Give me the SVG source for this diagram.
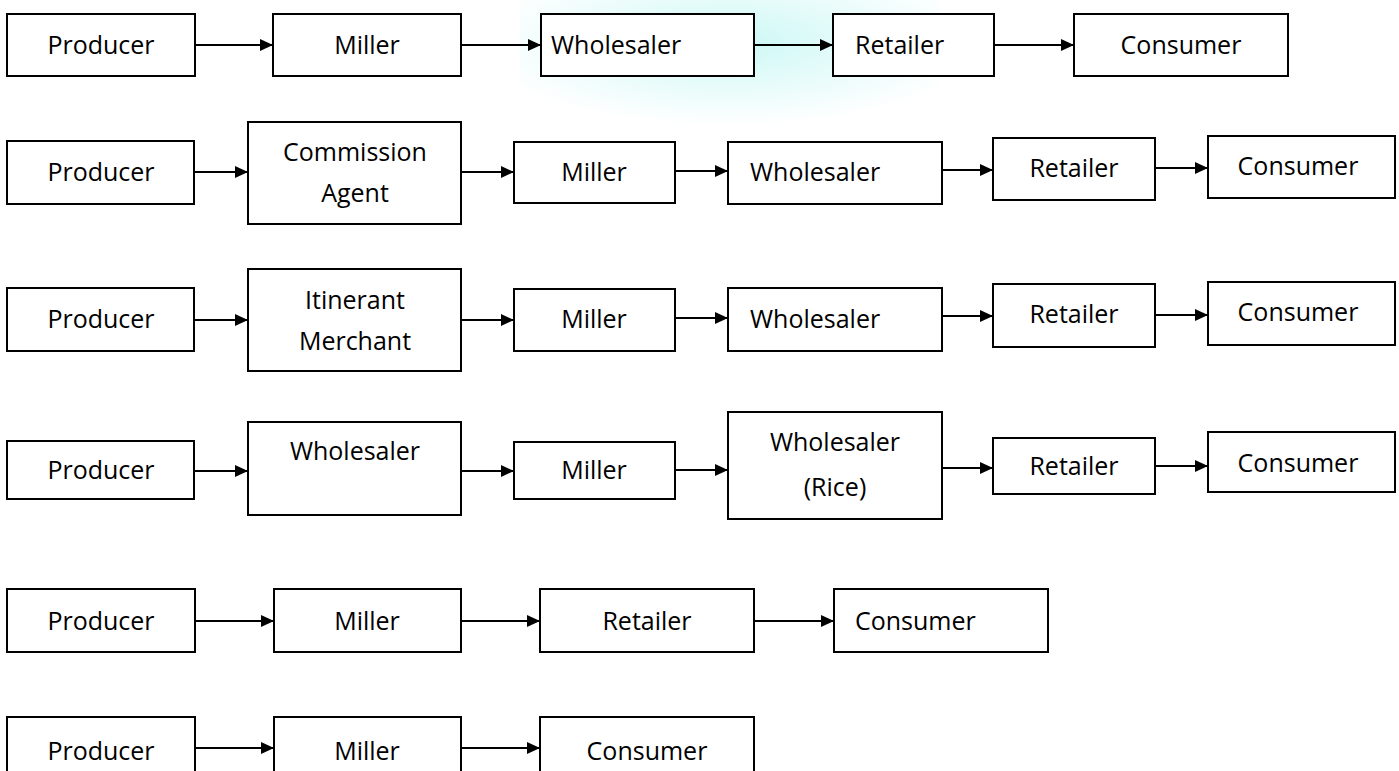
<svg xmlns="http://www.w3.org/2000/svg" width="1399" height="771" viewBox="0 0 1399 771">
<defs>
<style>
.box{fill:#fff;stroke:#000;stroke-width:2}
.t{font-family:"Open Sans","Noto Sans","Liberation Sans",sans-serif;font-size:25px;fill:#000}
.c{text-anchor:middle}
.s{text-anchor:start}
.edge{stroke:#000;stroke-width:2;fill:none;marker-end:url(#ah)}
</style>
<marker id="ah" markerUnits="userSpaceOnUse" markerWidth="14" markerHeight="12" refX="13" refY="6" orient="auto">
<path d="M0,0 L13,6 L0,12 z" fill="#000"/>
</marker>
<radialGradient id="cy" cx="0.5" cy="0.3" r="0.6">
<stop offset="0" stop-color="#c6f7f4" stop-opacity="0.9"/>
<stop offset="1" stop-color="#c6f7f4" stop-opacity="0"/>
</radialGradient>
</defs>
<rect x="0" y="0" width="1399" height="771" fill="#fff"/>
<rect x="520" y="0" width="420" height="140" fill="url(#cy)"/>

<g id="connectors">
<!-- row 1 -->
<line class="edge" x1="195" y1="45" x2="273" y2="45"/>
<line class="edge" x1="461" y1="45" x2="541" y2="45"/>
<line class="edge" x1="754" y1="45" x2="833" y2="45"/>
<line class="edge" x1="994" y1="45" x2="1074" y2="45"/>
<!-- row 2 -->
<line class="edge" x1="194" y1="172" x2="248" y2="172"/>
<line class="edge" x1="461" y1="172" x2="514" y2="172"/>
<line class="edge" x1="675" y1="171" x2="728" y2="171"/>
<line class="edge" x1="942" y1="170" x2="993" y2="170"/>
<line class="edge" x1="1155" y1="168" x2="1208" y2="168"/>
<!-- row 3 -->
<line class="edge" x1="194" y1="320" x2="248" y2="320"/>
<line class="edge" x1="461" y1="320" x2="514" y2="320"/>
<line class="edge" x1="675" y1="318" x2="728" y2="318"/>
<line class="edge" x1="942" y1="316" x2="993" y2="316"/>
<line class="edge" x1="1155" y1="315" x2="1208" y2="315"/>
<!-- row 4 -->
<line class="edge" x1="194" y1="471" x2="248" y2="471"/>
<line class="edge" x1="461" y1="471" x2="514" y2="471"/>
<line class="edge" x1="675" y1="470" x2="728" y2="470"/>
<line class="edge" x1="942" y1="468" x2="993" y2="468"/>
<line class="edge" x1="1155" y1="466" x2="1208" y2="466"/>
<!-- row 5 -->
<line class="edge" x1="195" y1="621" x2="274" y2="621"/>
<line class="edge" x1="461" y1="621" x2="540" y2="621"/>
<line class="edge" x1="754" y1="621" x2="834" y2="621"/>
<!-- row 6 -->
<line class="edge" x1="195" y1="748" x2="274" y2="748"/>
<line class="edge" x1="461" y1="748" x2="540" y2="748"/>
</g>

<!-- row 1 -->
<g id="r1-producer"><rect class="box" x="7" y="14" width="188" height="62"/><text class="t c" x="101" y="54">Producer</text></g>
<g id="r1-miller"><rect class="box" x="273" y="14" width="188" height="62"/><text class="t c" x="367" y="54">Miller</text></g>
<g id="r1-wholesaler"><rect class="box" x="541" y="14" width="213" height="62"/><text class="t s" x="551" y="54">Wholesaler</text></g>
<g id="r1-retailer"><rect class="box" x="833" y="14" width="161" height="62"/><text class="t s" x="855" y="54">Retailer</text></g>
<g id="r1-consumer"><rect class="box" x="1074" y="14" width="214" height="62"/><text class="t c" x="1181" y="54">Consumer</text></g>

<!-- row 2 -->
<g id="r2-producer"><rect class="box" x="7" y="141" width="187" height="63"/><text class="t c" x="101" y="181">Producer</text></g>
<g id="r2-agent"><rect class="box" x="248" y="122" width="213" height="102"/><text class="t c" x="355" y="161">Commission</text><text class="t c" x="355" y="202">Agent</text></g>
<g id="r2-miller"><rect class="box" x="514" y="142" width="161" height="61"/><text class="t c" x="594" y="181">Miller</text></g>
<g id="r2-wholesaler"><rect class="box" x="728" y="142" width="214" height="62"/><text class="t s" x="750" y="181">Wholesaler</text></g>
<g id="r2-retailer"><rect class="box" x="993" y="138" width="162" height="62"/><text class="t c" x="1074" y="177">Retailer</text></g>
<g id="r2-consumer"><rect class="box" x="1208" y="136" width="187" height="62"/><text class="t c" x="1298" y="175">Consumer</text></g>

<!-- row 3 -->
<g id="r3-producer"><rect class="box" x="7" y="288" width="187" height="63"/><text class="t c" x="101" y="328">Producer</text></g>
<g id="r3-merchant"><rect class="box" x="248" y="269" width="213" height="102"/><text class="t c" x="355" y="309">Itinerant</text><text class="t c" x="355" y="350">Merchant</text></g>
<g id="r3-miller"><rect class="box" x="514" y="289" width="161" height="62"/><text class="t c" x="594" y="328">Miller</text></g>
<g id="r3-wholesaler"><rect class="box" x="728" y="288" width="214" height="63"/><text class="t s" x="750" y="328">Wholesaler</text></g>
<g id="r3-retailer"><rect class="box" x="993" y="284" width="162" height="63"/><text class="t c" x="1074" y="323">Retailer</text></g>
<g id="r3-consumer"><rect class="box" x="1208" y="282" width="187" height="63"/><text class="t c" x="1298" y="321">Consumer</text></g>

<!-- row 4 -->
<g id="r4-producer"><rect class="box" x="7" y="441" width="187" height="58"/><text class="t c" x="101" y="479">Producer</text></g>
<g id="r4-wholesaler"><rect class="box" x="248" y="422" width="213" height="93"/><text class="t c" x="355" y="460">Wholesaler</text></g>
<g id="r4-miller"><rect class="box" x="514" y="442" width="161" height="57"/><text class="t c" x="594" y="479">Miller</text></g>
<g id="r4-wholesaler-rice"><rect class="box" x="728" y="412" width="214" height="107"/><text class="t c" x="835" y="451">Wholesaler</text><text class="t c" x="835" y="496">(Rice)</text></g>
<g id="r4-retailer"><rect class="box" x="993" y="438" width="162" height="56"/><text class="t c" x="1074" y="475">Retailer</text></g>
<g id="r4-consumer"><rect class="box" x="1208" y="432" width="187" height="60"/><text class="t c" x="1298" y="472">Consumer</text></g>

<!-- row 5 -->
<g id="r5-producer"><rect class="box" x="7" y="589" width="188" height="63"/><text class="t c" x="101" y="630">Producer</text></g>
<g id="r5-miller"><rect class="box" x="274" y="589" width="187" height="63"/><text class="t c" x="367" y="630">Miller</text></g>
<g id="r5-retailer"><rect class="box" x="540" y="589" width="214" height="63"/><text class="t c" x="647" y="630">Retailer</text></g>
<g id="r5-consumer"><rect class="box" x="834" y="589" width="214" height="63"/><text class="t s" x="855" y="630">Consumer</text></g>

<!-- row 6 -->
<g id="r6-producer"><rect class="box" x="7" y="717" width="188" height="64"/><text class="t c" x="101" y="760">Producer</text></g>
<g id="r6-miller"><rect class="box" x="274" y="717" width="187" height="64"/><text class="t c" x="367" y="760">Miller</text></g>
<g id="r6-consumer"><rect class="box" x="540" y="717" width="214" height="64"/><text class="t c" x="647" y="760">Consumer</text></g>
</svg>
